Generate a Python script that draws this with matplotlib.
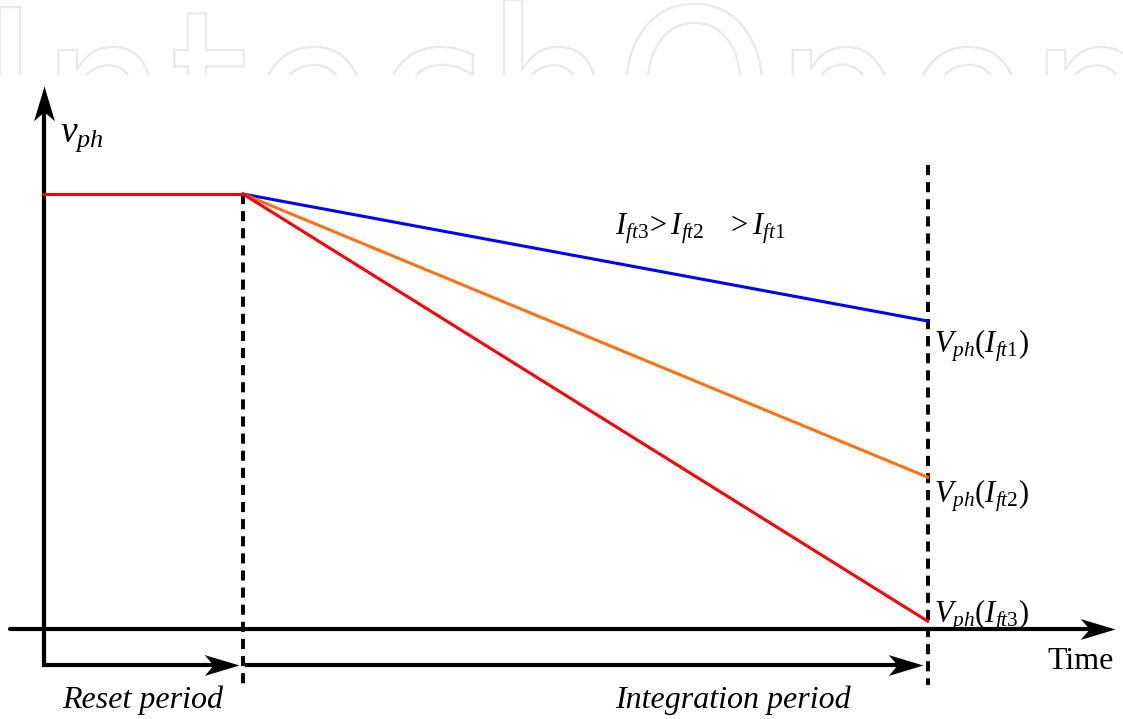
import matplotlib
matplotlib.use("Agg")
import matplotlib.pyplot as plt
from matplotlib.path import Path
from matplotlib.markers import MarkerStyle
from matplotlib.transforms import Affine2D
from matplotlib.textpath import TextPath
from matplotlib.patches import PathPatch
from matplotlib.font_manager import FontProperties

# timing of the pixel cycle (arbitrary units)
t_reset = 1.0
t_end = 4.44
v_reset = 1.0

# voltage at the end of integration for each photocurrent
labels = [r"$V_{ph}(I_{ft1})$", r"$V_{ph}(I_{ft2})$", r"$V_{ph}(I_{ft3})$"]
v_final = [0.708, 0.349, 0.018]
colors = ["#0000ff", "#ff7316", "#ff0000"]

# layout scale: pixels per unit of t and v, and origin position in pixels
W, H = 1123, 719
PX_T, PX_V = 199.0, 435.0
X0, Y0 = 44.0, 629.0

plt.rcParams["mathtext.fontset"] = "custom"
plt.rcParams["mathtext.rm"] = "Liberation Serif"
plt.rcParams["mathtext.it"] = "Liberation Serif:italic"
plt.rcParams["font.family"] = ["Liberation Serif", "DejaVu Serif"]

fig = plt.figure(figsize=(W / 100, H / 100), dpi=100)

# faint watermark at the top, cut off by the picture below
wm = fig.add_axes([0, (H - 75) / H, 1, 75 / H])
wm.set_xlim(0, W)
wm.set_ylim(H - 75, H)
wm.axis("off")
tp = TextPath((0, 0), "IntechOpen", size=100, prop=FontProperties(family="DejaVu Sans"))
ext = tp.get_extents()
sx = 1140 / ext.width
sy = 172 / 72.9
trans = Affine2D().translate(-ext.x0, 0).scale(sx, sy).translate(0, H - 179)
wm.add_patch(PathPatch(trans.transform_path(tp), facecolor="none",
                       edgecolor="#e9e9e9", linewidth=1.6))

ax = fig.add_axes([0, 0, 1, 1])
ax.set_xlim(-X0 / PX_T, (W - X0) / PX_T)
ax.set_ylim(-(H - Y0) / PX_V, Y0 / PX_V)
ax.axis("off")
ax.patch.set_alpha(0)

head = Path([(0, 0), (-35, 10.5), (-26, 0), (-35, -10.5), (0, 0)],
            [Path.MOVETO, Path.LINETO, Path.LINETO, Path.LINETO, Path.CLOSEPOLY])


def arrow_head(x, y, angle):
    m = MarkerStyle(head, transform=Affine2D().rotate_deg(angle))
    ax.plot(x, y, marker=m, markersize=50, color="black", markeredgewidth=0, zorder=5)


lw_axis = 3.0
v_low = -36 / PX_V          # level of the period arrows
back = 20                   # pixels the line stops short of an arrow tip

# time axis
t_min, t_max = -34 / PX_T, 1071 / PX_T
ax.plot([t_min, t_max - back / PX_T], [0, 0], color="black", lw=lw_axis,
        solid_capstyle="round")
arrow_head(t_max, 0, 0)

# vertical axis joined to the reset period arrow
v_top = 543 / PX_V
t_reset_tip = t_reset - 4 / PX_T
ax.plot([t_reset_tip - back / PX_T, 0, 0], [v_low, v_low, v_top - back / PX_V],
        color="black", lw=lw_axis, solid_joinstyle="miter")
arrow_head(0, v_top, 90)
arrow_head(t_reset_tip, v_low, 0)

# integration period arrow
t_int_tip = t_end - 5 / PX_T
ax.plot([t_reset + 4 / PX_T, t_int_tip - back / PX_T], [v_low, v_low],
        color="black", lw=lw_axis)
arrow_head(t_int_tip, v_low, 0)

# dashed markers for the end of reset and end of integration
dash = (0, (2.6, 1.8))
v_dash_low = -56 / PX_V
ax.plot([t_reset, t_reset], [v_reset, v_dash_low], color="black", lw=2.8, ls=dash)
ax.plot([t_end, t_end], [464 / PX_V, v_dash_low], color="black", lw=2.8, ls=dash)

# reset level and the three integration ramps
ax.plot([0, t_reset], [v_reset, v_reset], color="#ff0000", lw=2.2, zorder=4)
for v, c in zip(v_final, colors):
    ax.plot([t_reset, t_end], [v_reset, v], color=c, lw=2.2, zorder=4)

# labels
fs = 22
ax.text(16 / PX_T, 487 / PX_V, r"$v_{ph}$", fontsize=27, va="baseline")
ax.text(2.87, 395 / PX_V, r"$I_{ft3}\!>I_{ft2}\ \ \ >I_{ft1}$", fontsize=fs,
        va="baseline")
label_base = [276 / PX_V, 126 / PX_V, 7 / PX_V]
for lab, yb in zip(labels, label_base):
    ax.text(t_end + 6 / PX_T, yb, lab, fontsize=fs, va="baseline")
ax.text(1003 / PX_T, -40 / PX_V, "Time", fontsize=fs + 1, va="baseline")
ax.text(18 / PX_T, -79 / PX_V, "Reset period", fontsize=fs + 1, style="italic",
        va="baseline")
ax.text(571 / PX_T, -79 / PX_V, "Integration period", fontsize=fs + 1,
        style="italic", va="baseline")

fig.savefig("out.png", dpi=100)
